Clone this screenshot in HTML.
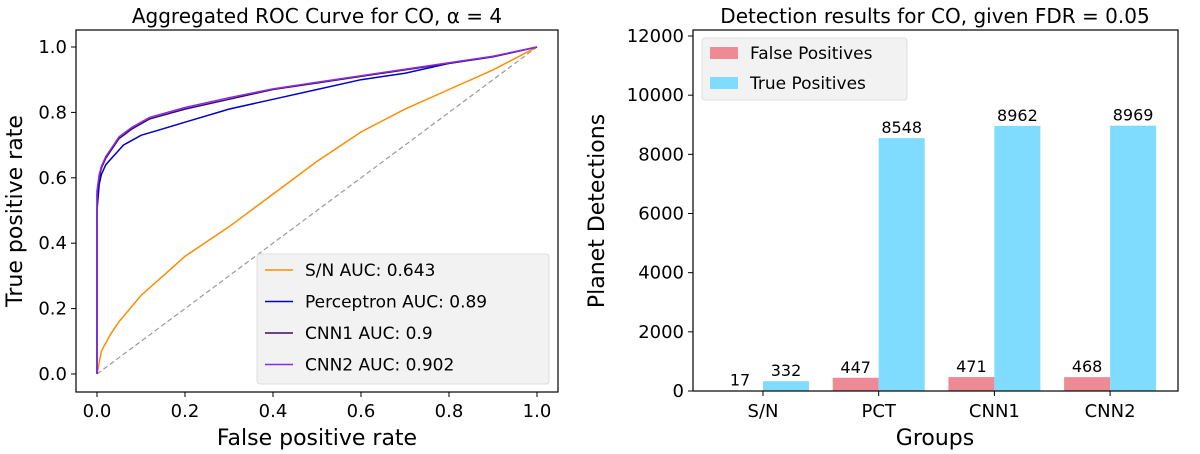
<!DOCTYPE html>
<html><head><meta charset="utf-8"><style>
body{margin:0;background:#fff;}
svg{display:block;font-family:"DejaVu Sans","Liberation Sans",sans-serif;}
</style></head><body>
<svg id="fig" width="1200" height="454" viewBox="0 0 1200 454">
<g id="roc"></g>
<g id="bars"></g>
</svg>
<script>
const cnnFpr=[0,0,0.005,0.01,0.02,0.03,0.05,0.08,0.12,0.2,0.3,0.4,0.5,0.6,0.7,0.8,0.9,1];
const cnn1Tpr=[0,0.55,0.6,0.63,0.66,0.68,0.72,0.75,0.78,0.81,0.84,0.87,0.89,0.91,0.93,0.95,0.97,1];
const cnn2Tpr=[0,0.56,0.61,0.635,0.665,0.685,0.725,0.755,0.785,0.815,0.845,0.872,0.892,0.912,0.932,0.952,0.972,1];
const pctFpr=[0,0,0.005,0.01,0.02,0.04,0.06,0.1,0.15,0.2,0.3,0.4,0.5,0.6,0.7,0.8,0.9,1];
const pctTpr=[0,0.5,0.58,0.61,0.64,0.67,0.7,0.73,0.75,0.77,0.81,0.84,0.87,0.9,0.92,0.95,0.97,1];
const snFpr=[0,0.01,0.03,0.05,0.1,0.15,0.2,0.3,0.4,0.5,0.6,0.7,0.8,0.9,1];
const snTpr=[0,0.07,0.12,0.16,0.24,0.3,0.36,0.45,0.55,0.65,0.74,0.81,0.87,0.93,1];
const rocTicks=[0,0.2,0.4,0.6,0.8,1.0];
const groups=["S/N","PCT","CNN1","CNN2"];
const fpVals=[17,447,471,468];
const tpVals=[332,8548,8962,8969];
const barTicks=[0,2000,4000,6000,8000,10000,12000];

const NS="http://www.w3.org/2000/svg";
function mk(p,tag,attrs,txt){const e=document.createElementNS(NS,tag);for(const k in attrs)e.setAttribute(k,attrs[k]);if(txt!==undefined)e.textContent=txt;p.appendChild(e);return e;}

// ROC
const roc=document.getElementById('roc');
const rx=v=>97+v*440, ry=v=>374-v*327;
for(const t of rocTicks){
  let l=mk(roc,'line',{x1:rx(t),x2:rx(t),y1:392,y2:397,stroke:'#000'});
  
  
  let tx=mk(roc,'text',{x:rx(t),y:417,'font-size':18,'text-anchor':'middle'},t.toFixed(1));
  
  
  let l2=mk(roc,'line',{x1:71,x2:76,y1:ry(t),y2:ry(t),stroke:'#000'});
  
  
  let ty=mk(roc,'text',{x:67,y:ry(t)+6,'font-size':18,'text-anchor':'end'},t.toFixed(1));
  
  
}
let diag=mk(roc,'line',{x1:rx(0),y1:ry(0),x2:rx(1),y2:ry(1),stroke:'#999','stroke-dasharray':'5,3','stroke-width':1.2});


function curve(xs,ys,col,name){
  const d=xs.map((x,i)=>(i?'L':'M')+rx(x).toFixed(1)+','+ry(ys[i]).toFixed(1)).join('');
  const p=mk(roc,'path',{d:d,fill:'none',stroke:col,'stroke-width':1.5});
  
  
}
curve(snFpr,snTpr,'#ff8c00','sn-curve');
curve(pctFpr,pctTpr,'#0000cd','perceptron-curve');
curve(cnnFpr,cnn1Tpr,'#3c0a6e','cnn1-curve');
curve(cnnFpr,cnn2Tpr,'#8a2be2','cnn2-curve');
let fr=mk(roc,'rect',{x:76,y:30,width:482,height:362,fill:'none',stroke:'#000','stroke-width':1.2});


let tt=mk(roc,'text',{x:317,y:23,'font-size':20,'text-anchor':'middle'},'Aggregated ROC Curve for CO, \u03b1 = 4');


let xl=mk(roc,'text',{x:317,y:445,'font-size':22,'text-anchor':'middle'},'False positive rate');


let yl=mk(roc,'text',{x:0,y:0,'font-size':22,'text-anchor':'middle',transform:'translate(22,211) rotate(-90)'},'True positive rate');


let lg=mk(roc,'rect',{x:257,y:254,width:292,height:130,fill:'#f2f2f2',stroke:'#ddd',rx:3});


const legItems=[['S/N AUC: 0.643','#ff8c00'],['Perceptron AUC: 0.89','#0000cd'],['CNN1 AUC: 0.9','#3c0a6e'],['CNN2 AUC: 0.902','#8a2be2']];
legItems.forEach((it,i)=>{
  const y=270+i*31.5;
  let l=mk(roc,'line',{x1:265,x2:293,y1:y,y2:y,stroke:it[1],'stroke-width':1.5});
  
  
  let t=mk(roc,'text',{x:305,y:y+6,'font-size':17},it[0]);
  
  
});

// Bars
const bars=document.getElementById('bars');
const by=v=>391-v*(355/12000);
const bx=i=>763+i*115.7;
const bw=46;
for(const t of barTicks){
  let l=mk(bars,'line',{x1:688,x2:693,y1:by(t),y2:by(t),stroke:'#000'});
  
  
  let tx=mk(bars,'text',{x:684,y:by(t)+6,'font-size':18,'text-anchor':'end'},t);
  
  
}
groups.forEach((g,i)=>{
  let r=mk(bars,'rect',{x:bx(i)-bw,y:by(fpVals[i]),width:bw,height:by(0)-by(fpVals[i]),fill:'#ed8a96'});
  
  
  let b=mk(bars,'rect',{x:bx(i),y:by(tpVals[i]),width:bw,height:by(0)-by(tpVals[i]),fill:'#80dcff'});
  
  
  let t1=mk(bars,'text',{x:bx(i)-bw/2,y:by(fpVals[i])-5,'font-size':16,'text-anchor':'middle'},fpVals[i]);
  
  
  let t2=mk(bars,'text',{x:bx(i)+bw/2,y:by(tpVals[i])-5,'font-size':16,'text-anchor':'middle'},tpVals[i]);
  
  
  let tk=mk(bars,'line',{x1:bx(i),x2:bx(i),y1:391,y2:396,stroke:'#000'});
  
  
  let gl=mk(bars,'text',{x:bx(i),y:417,'font-size':18,'text-anchor':'middle'},g);
  
  
});
let bf=mk(bars,'rect',{x:693,y:30,width:485,height:361,fill:'none',stroke:'#000','stroke-width':1.2});


let bt=mk(bars,'text',{x:935,y:23,'font-size':20,'text-anchor':'middle'},'Detection results for CO, given FDR = 0.05');


let bxl=mk(bars,'text',{x:935,y:445,'font-size':22,'text-anchor':'middle'},'Groups');


let byl=mk(bars,'text',{x:0,y:0,'font-size':22,'text-anchor':'middle',transform:'translate(604,211) rotate(-90)'},'Planet Detections');


let bl=mk(bars,'rect',{x:702,y:38,width:205,height:62,fill:'#f2f2f2',stroke:'#ddd',rx:3});


[['False Positives','#ed8a96'],['True Positives','#80dcff']].forEach((it,i)=>{
  const y=53+i*30;
  let s=mk(bars,'rect',{x:710,y:y-6,width:28,height:12,fill:it[1]});
  
  
  let t=mk(bars,'text',{x:750,y:y+6,'font-size':17},it[0]);
  
  
});
</script>
</body></html>
